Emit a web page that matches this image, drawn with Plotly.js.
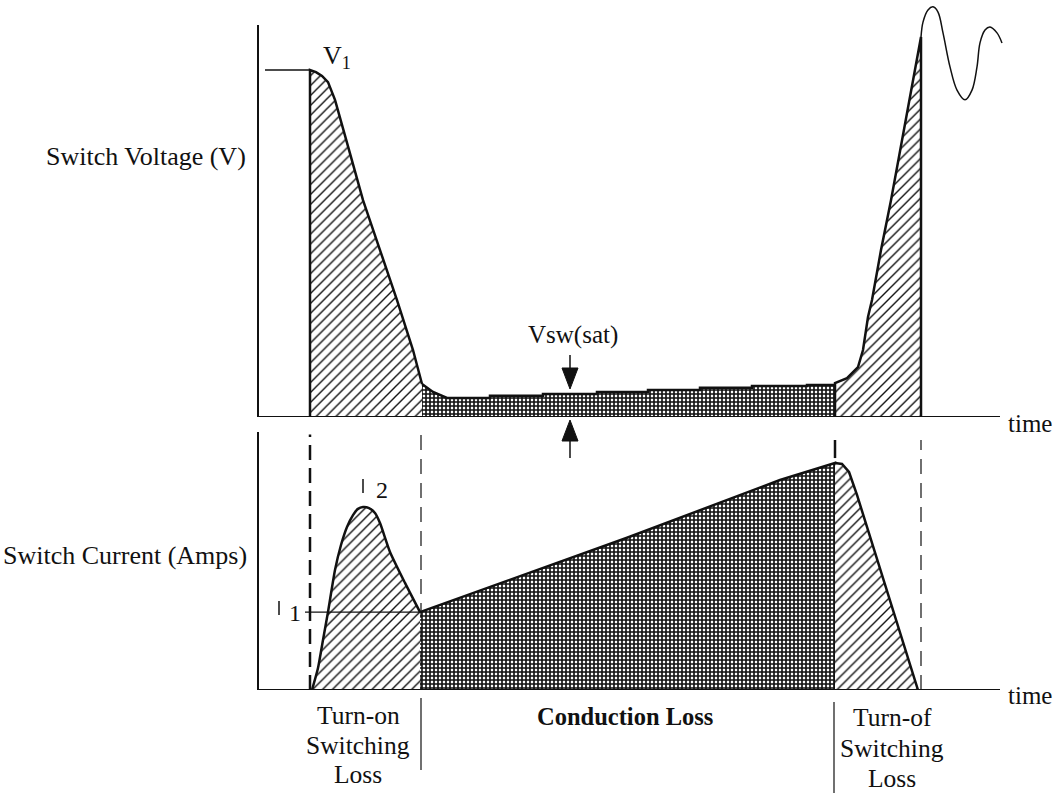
<!DOCTYPE html>
<html>
<head>
<meta charset="utf-8">
<script src="https://cdn.plot.ly/plotly-3.0.1.min.js"></script>
<style>html,body{margin:0;padding:0;background:#fff;}#chart{width:1059px;height:794px;}</style>
</head>
<body>
<div id="chart"></div>
<script>
// ---- data (time in arbitrary units, voltage/current in % of V1 / scale) ----
const phaseEdges = [5.2, 16.3, 57.7, 66.3];   // turn-on start, conduction start, turn-off start, turn-off end

const v1T = [0.7, 5.2];
const v1V = [100, 100];

const vOnT = [5.2, 5.2, 5.8, 6.4, 7.0, 7.7, 9.1, 10.5, 12.2, 13.9, 15.5, 16.0, 16.4];
const vOnV = [0, 100, 99.4, 98.3, 96.5, 91.4, 77.0, 62.5, 48.1, 33.7, 19.3, 13.5, 9.5];

const vCondT = [16.4, 17.5, 18.9, 23.2, 23.2, 28.5, 28.5, 33.9, 33.9, 39.0, 39.0, 44.2, 44.2, 49.4, 49.4, 54.9, 54.9, 57.7, 57.7];
const vCondV = [9.5, 7.2, 5.5, 5.5, 6.1, 6.1, 6.6, 6.6, 7.2, 7.2, 7.8, 7.8, 8.4, 8.4, 8.9, 8.9, 9.2, 9.2, 0];

const vOffT = [57.7, 57.7, 58.9, 59.5, 60.0, 60.5, 61.0, 61.4, 62.3, 63.3, 64.2, 65.1, 66.3, 66.3];
const vOffV = [0, 9.8, 11.2, 13.0, 14.4, 19.3, 28.8, 33.7, 48.1, 62.5, 76.9, 91.4, 109.5, 0];

const ringT = [66.3, 66.5, 67.0, 67.5, 68.0, 68.5, 69.2, 69.9, 70.7, 71.4, 71.9, 72.2, 72.7, 73.2, 73.9, 74.4];
const ringV = [109.5, 113.8, 117.3, 118.2, 116.7, 110.7, 100.9, 94.2, 91.4, 94.2, 100.9, 107.8, 111.5, 112.4, 110.7, 107.8];

const iOnT = [5.4, 6.0, 6.5, 7.0, 7.7, 8.3, 8.9, 9.5, 10.0, 10.5, 11.1, 11.7, 12.2, 13.2, 14.7, 16.2];
const iOnI = [0, 8.5, 19.4, 30.2, 46.5, 56.2, 63.2, 67.8, 70.2, 70.9, 70.5, 68.6, 64.7, 53.5, 41.5, 30.2];

const iCondT = [16.2, 36.9, 52.2, 57.7, 57.7];
const iCondI = [30.2, 59.0, 81.4, 88.0, 0];

const iOffT = [57.7, 58.4, 59.1, 59.9, 66.0];
const iOffI = [88.0, 87.6, 84.5, 75.6, 0];

const lvl1T = [4.7, 16.2];
const lvl1I = [30.2, 30.2];

const timeEnd = 74.2;
const vAxisTop = 113;
const iAxisTop = 100;

const turnOnLines = ['Turn-on', 'Switching', 'Loss'];
const turnOffLines = ['Turn-of', 'Switching', 'Loss'];

// ---- styles ----
const hatch = {shape: '/', size: 7, solidity: 0.2, fgcolor: '#111', bgcolor: '#fff'};
const cross = {shape: '+', size: 4, solidity: 0.65, fgcolor: '#111', bgcolor: '#fff'};
const outline = {color: '#111', width: 2.5};
const serif = 'Liberation Serif, Times New Roman, serif';

function region(x, y, yaxis, pat, shape) {
  return {x: x, y: y, yaxis: yaxis, type: 'scatter', mode: 'lines', fill: 'tozeroy',
    fillpattern: pat, fillcolor: '#fff', line: Object.assign({shape: shape || 'linear', smoothing: 0.6}, outline),
    hoverinfo: 'skip', showlegend: false};
}
function plain(x, y, yaxis, w, shape) {
  return {x: x, y: y, yaxis: yaxis, type: 'scatter', mode: 'lines',
    line: {color: '#111', width: w, shape: shape || 'linear', smoothing: 1}, hoverinfo: 'skip', showlegend: false};
}

const traces = [
  region(vOnT, vOnV, 'y', hatch),
  region(vCondT, vCondV, 'y', cross),
  region(vOffT, vOffV, 'y', hatch),
  plain(v1T, v1V, 'y', 1.5),
  plain(ringT, ringV, 'y', 1.5, 'spline'),
  region(iOnT, iOnI, 'y2', hatch, 'spline'),
  region(iCondT, iCondI, 'y2', cross),
  region(iOffT, iOffI, 'y2', hatch),
  plain(lvl1T, lvl1I, 'y2', 1.2)
];

// pixel helpers for text / guide placement
const W = 1059, H = 794;
const px = v => v / W;
const py = v => 1 - v / H;

function ln(x0, y0, x1, y1, yref, w, dash) {
  return {type: 'line', xref: 'x', yref: yref, x0: x0, y0: y0, x1: x1, y1: y1,
    line: {color: '#111', width: w, dash: dash || 'solid'}};
}
function pline(x0, y0, x1, y1, w) {
  return {type: 'line', xref: 'paper', yref: 'paper', x0: px(x0), x1: px(x1), y0: py(y0), y1: py(y1),
    line: {color: '#111', width: w}};
}
function tri(xc, yTip, yBase, half) {
  const p = 'M ' + px(xc - half) + ' ' + py(yBase) + ' L ' + px(xc + half) + ' ' + py(yBase) +
            ' L ' + px(xc) + ' ' + py(yTip) + ' Z';
  return {type: 'path', xref: 'paper', yref: 'paper', path: p, fillcolor: '#111', line: {color: '#111', width: 1}};
}

const shapes = [
  ln(0, 0, 0, vAxisTop, 'y', 2),
  ln(0, 0, timeEnd, 0, 'y', 2),
  ln(0, 0, 0, iAxisTop, 'y2', 2),
  ln(0, 0, timeEnd, 0, 'y2', 2),
  ln(phaseEdges[0], 0, phaseEdges[0], 99, 'y2', 2.5, '15px,8px'),
  ln(phaseEdges[1], 0, phaseEdges[1], 99, 'y2', 1.2, '15px,9px'),
  ln(phaseEdges[2], 89.9, phaseEdges[2], 96.9, 'y2', 2.5),
  ln(phaseEdges[3], 0, phaseEdges[3], 96.9, 'y2', 1.2, '15px,9px'),
  ln(phaseEdges[1], py(698), phaseEdges[1], py(770), 'paper', 1.2),
  ln(phaseEdges[2] - 0.1, py(702), phaseEdges[2] - 0.1, py(793), 'paper', 1.2),
  pline(279, 601, 279, 615, 1.5),
  pline(363, 479, 363, 493, 1.5),
  pline(570, 355, 570, 372, 1.5),
  tri(570, 389, 368, 8),
  pline(570, 438, 570, 458, 1.5),
  tri(570, 420, 441, 8)
];

function txt(text, x, y, size, xanchor) {
  return {text: text, xref: 'paper', yref: 'paper', x: px(x), y: py(y), showarrow: false,
    xanchor: xanchor || 'center', yanchor: 'middle', font: {family: serif, size: size, color: '#111'}};
}

const annotations = [
  txt('Switch Voltage (V)', 248, 157, 26, 'right'),
  txt('Switch Current (Amps)', 249, 555, 26, 'right'),
  txt('V<sub>1</sub>', 321, 57, 26, 'left'),
  txt('Vsw(sat)', 573, 335, 25),
  txt('time', 1006, 423, 25, 'left'),
  txt('time', 1006, 695, 25, 'left'),
  txt('1', 295, 613, 24),
  txt('2', 382, 490, 24),
  txt('<b>Conduction Loss</b>', 625, 716, 24.5)
];
const onY = [715, 745, 774];
const offY = [717, 748, 778];
turnOnLines.forEach((s, k) => annotations.push(txt(s, 358, onY[k], 25.5)));
turnOffLines.forEach((s, k) => annotations.push(txt(s, 892, offY[k], 25.5)));

const layout = {
  width: W, height: H,
  margin: {l: 0, r: 0, t: 0, b: 0, pad: 0},
  paper_bgcolor: '#fff', plot_bgcolor: 'rgba(0,0,0,0)',
  showlegend: false,
  xaxis: {domain: [0, 1], range: [-25.8, 80.1], visible: false, fixedrange: true},
  yaxis: {domain: [1 - 417 / H, 1], range: [0, 417 / 3.47], visible: false, fixedrange: true},
  yaxis2: {domain: [1 - 690 / H, 1 - 418 / H], range: [0, (690 - 418) / 2.58], visible: false, fixedrange: true, anchor: 'x'},
  shapes: shapes,
  annotations: annotations,
  font: {family: serif, color: '#111'}
};

Plotly.newPlot('chart', traces, layout, {displayModeBar: false, staticPlot: true});
</script>
</body>
</html>
